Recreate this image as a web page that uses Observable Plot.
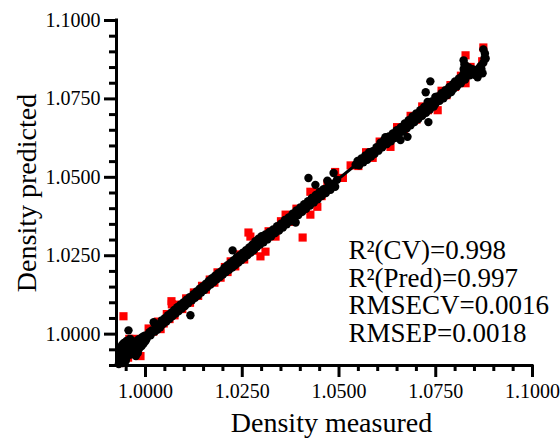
<!DOCTYPE html>
<html><head><meta charset="utf-8">
<script src="https://cdn.jsdelivr.net/npm/d3@7"></script>
<script src="https://cdn.jsdelivr.net/npm/@observablehq/plot@0.6"></script>
<style>body{margin:0;background:#fff}#chart svg{display:block}</style>
</head><body><div id="chart"></div>
<script>
// Calibration set (black circles): [measured, predicted]
const calibration = [
[0.9931,0.9905],[0.9932,0.9918],[0.9933,0.9932],[0.9934,0.9946],[0.9935,0.9958],[0.9936,0.9912],
[0.9937,0.9925],[0.9938,0.9938],[0.9939,0.9952],[0.9940,0.9966],[0.9941,0.9908],[0.9942,0.9930],
[0.9943,0.9944],[0.9944,0.9972],[0.9945,0.9920],[0.9946,0.9955],[0.9947,0.9936],[0.9948,0.9962],
[0.9949,0.9915],[0.9950,0.9948],[0.9951,0.9978],[0.9952,0.9928],[0.9953,0.9958],[0.9955,0.9940],
[0.9956,1.0012],[0.9957,0.9968],[0.9958,0.9950],[0.9960,0.9985],[0.9961,0.9935],[0.9962,0.9960],
[0.9964,0.9945],[0.9965,0.9975],[0.9967,0.9955],[0.9969,0.9968],[0.9971,0.9948],[0.9973,0.9972],
[0.9975,0.9960],[0.9977,0.9978],[0.9979,0.9965],[0.9981,0.9982],[0.9983,0.9970],[0.9985,0.9985],
[0.9987,0.9975],[0.9989,0.9988],[0.9991,0.9978],[0.9993,0.9992],[0.9996,0.9983],[0.9998,0.9995],
[0.9966,0.9938],[0.9972,0.9942],[0.9978,0.9950],[0.9984,0.9955],[0.9990,0.9962],[0.9995,0.9970],
[1.0000,0.9978],[0.9980,0.9940],[0.9975,0.9930],
[1.0003,0.9985],[1.0006,0.9998],[1.0010,1.0006],[1.0013,0.9996],[1.0016,1.0012],[1.0021,1.0038],
[1.0024,1.0008],[1.0027,1.0024],[1.0031,1.0015],[1.0035,1.0032],[1.0038,1.0022],[1.0042,1.0044],
[1.0046,1.0033],[1.0050,1.0051],[1.0054,1.0040],[1.0058,1.0060],[1.0062,1.0049],[1.0066,1.0068],
[1.0070,1.0058],[1.0074,1.0077],[1.0078,1.0066],[1.0082,1.0086],[1.0086,1.0074],[1.0090,1.0094],
[1.0094,1.0082],[1.0098,1.0101],[1.0102,1.0090],[1.0106,1.0110],[1.0110,1.0098],[1.0114,1.0118],
[1.0116,1.0060],[1.0120,1.0108],[1.0124,1.0127],[1.0128,1.0116],[1.0132,1.0136],[1.0136,1.0124],
[1.0140,1.0145],[1.0144,1.0133],[1.0148,1.0152],[1.0152,1.0141],[1.0156,1.0161],[1.0160,1.0150],
[1.0164,1.0170],[1.0168,1.0158],[1.0172,1.0178],[1.0176,1.0166],[1.0180,1.0186],[1.0184,1.0175],
[1.0188,1.0194],[1.0192,1.0182],[1.0196,1.0201],[1.0200,1.0190],
[1.0204,1.0212],[1.0208,1.0198],[1.0212,1.0220],[1.0216,1.0205],[1.0220,1.0228],[1.0225,1.0267],
[1.0224,1.0212],[1.0228,1.0236],[1.0232,1.0220],[1.0236,1.0245],[1.0240,1.0228],[1.0244,1.0252],
[1.0248,1.0236],[1.0252,1.0260],[1.0256,1.0244],[1.0260,1.0268],[1.0264,1.0252],[1.0268,1.0276],
[1.0272,1.0260],[1.0276,1.0285],[1.0280,1.0268],[1.0284,1.0296],[1.0288,1.0278],[1.0292,1.0304],
[1.0296,1.0286],[1.0300,1.0312],[1.0305,1.0293],[1.0310,1.0318],[1.0315,1.0302],[1.0320,1.0326],
[1.0325,1.0312],[1.0330,1.0334],[1.0335,1.0322],[1.0340,1.0344],[1.0345,1.0330],[1.0350,1.0352],
[1.0355,1.0340],[1.0360,1.0364],[1.0365,1.0350],[1.0370,1.0372],[1.0375,1.0360],[1.0380,1.0384],
[1.0385,1.0370],[1.0388,1.0356],[1.0390,1.0394],[1.0395,1.0380],[1.0400,1.0404],[1.0405,1.0390],
[1.0410,1.0414],[1.0415,1.0400],[1.0420,1.0424],[1.0421,1.0498],[1.0425,1.0410],[1.0430,1.0434],
[1.0435,1.0420],[1.0439,1.0476],[1.0440,1.0444],[1.0445,1.0430],[1.0450,1.0454],[1.0455,1.0440],
[1.0460,1.0462],[1.0466,1.0450],[1.0470,1.0489],[1.0472,1.0470],[1.0478,1.0460],[1.0484,1.0480],
[1.0486,1.0514],[1.0490,1.0470],[1.0495,1.0492],
[1.0543,1.0540],[1.0548,1.0552],[1.0552,1.0538],[1.0558,1.0560],[1.0563,1.0548],[1.0568,1.0570],
[1.0573,1.0556],[1.0578,1.0580],[1.0583,1.0566],[1.0587,1.0583],[1.0592,1.0575],[1.0597,1.0596],
[1.0602,1.0585],[1.0607,1.0610],[1.0612,1.0596],[1.0617,1.0620],[1.0620,1.0628],[1.0624,1.0606],
[1.0629,1.0630],[1.0634,1.0615],[1.0639,1.0640],[1.0644,1.0625],[1.0649,1.0650],[1.0654,1.0636],
[1.0659,1.0619],[1.0660,1.0660],[1.0665,1.0646],[1.0670,1.0672],[1.0675,1.0656],[1.0677,1.0629],
[1.0680,1.0682],[1.0685,1.0666],[1.0690,1.0694],[1.0695,1.0676],[1.0700,1.0704],[1.0705,1.0686],
[1.0710,1.0714],[1.0715,1.0696],[1.0720,1.0724],[1.0724,1.0771],[1.0729,1.0740],[1.0731,1.0676],
[1.0736,1.0806],[1.0725,1.0706],[1.0730,1.0732],[1.0735,1.0716],[1.0740,1.0742],[1.0745,1.0726],
[1.0749,1.0756],[1.0750,1.0736],[1.0755,1.0758],[1.0760,1.0744],[1.0765,1.0768],[1.0770,1.0752],
[1.0775,1.0778],[1.0780,1.0762],[1.0785,1.0788],[1.0790,1.0772],[1.0795,1.0798],[1.0796,1.0782],
[1.0800,1.0806],[1.0805,1.0790],[1.0810,1.0815],[1.0815,1.0800],[1.0818,1.0822],
[1.0822,1.0830],[1.0822,1.0845],[1.0824,1.0860],[1.0827,1.0857],[1.0822,1.0873],[1.0826,1.0812],
[1.0830,1.0840],[1.0835,1.0850],[1.0838,1.0825],[1.0840,1.0835],[1.0845,1.0845],[1.0848,1.0830],
[1.0852,1.0826],[1.0858,1.0819],[1.0862,1.0840],[1.0866,1.0855],[1.0871,1.0832],[1.0873,1.0865],
[1.0876,1.0880],[1.0879,1.0879],[1.0873,1.0908],[1.0877,1.0895],[1.0868,1.0845]
];
// Prediction set (red squares): [measured, predicted]
const prediction = [
[0.9935,0.9915],[0.9935,0.9908],[0.9940,0.9950],[0.9943,1.0057],[0.9945,0.9930],[0.9950,0.9965],
[0.9955,0.9925],[0.9958,0.9985],[0.9965,0.9945],[0.9972,0.9985],[0.9987,0.9930],[0.9990,0.9978],
[0.9998,0.9985],[1.0008,1.0018],[1.0020,1.0008],[1.0032,1.0040],[1.0039,1.0016],[1.0047,1.0034],
[1.0055,1.0064],[1.0062,1.0048],[1.0067,1.0105],[1.0068,1.0095],[1.0075,1.0060],[1.0085,1.0094],
[1.0095,1.0080],[1.0105,1.0114],[1.0115,1.0100],[1.0125,1.0133],[1.0136,1.0122],[1.0146,1.0154],
[1.0156,1.0142],[1.0166,1.0174],[1.0178,1.0164],[1.0186,1.0197],[1.0194,1.0180],[1.0205,1.0214],
[1.0212,1.0198],[1.0220,1.0232],[1.0232,1.0216],[1.0243,1.0254],[1.0255,1.0238],[1.0266,1.0324],
[1.0271,1.0311],[1.0280,1.0266],[1.0297,1.0248],[1.0310,1.0263],[1.0318,1.0328],[1.0336,1.0311],
[1.0350,1.0360],[1.0362,1.0381],[1.0375,1.0358],[1.0390,1.0400],[1.0406,1.0308],[1.0426,1.0454],
[1.0426,1.0381],[1.0444,1.0406],[1.0440,1.0452],[1.0455,1.0440],[1.0470,1.0480],[1.0490,1.0517],
[1.0510,1.0498],[1.0530,1.0538],[1.0550,1.0536],[1.0570,1.0580],[1.0587,1.0562],[1.0605,1.0614],
[1.0633,1.0597],[1.0650,1.0660],[1.0668,1.0650],[1.0685,1.0696],[1.0700,1.0684],[1.0715,1.0726],
[1.0730,1.0714],[1.0755,1.0714],[1.0765,1.0776],[1.0778,1.0762],[1.0788,1.0794],[1.0800,1.0788],
[1.0815,1.0824],[1.0827,1.0889],[1.0827,1.0800],[1.0840,1.0852],[1.0855,1.0836],[1.0873,1.0914],
[1.0870,1.0870]
];
const majorTicks = [1.0000, 1.0250, 1.0500, 1.0750, 1.1000];
const minorTicksX = [0.995,1.005,1.010,1.015,1.020,1.030,1.035,1.040,1.045,1.055,1.060,1.065,1.070,1.080,1.085,1.090,1.095];
const minorTicksY = [0.990,0.995,1.005,1.010,1.015,1.020,1.030,1.035,1.040,1.045,1.055,1.060,1.065,1.070,1.080,1.085,1.090,1.095];
const xDomain = [0.9925, 1.1];
const yDomain = [0.99, 1.1];
const stats = ["R²(CV)=0.998", "R²(Pred)=0.997", "RMSECV=0.0016", "RMSEP=0.0018"];
const xTitle = "Density measured";
const yTitle = "Density predicted";

const cal = calibration.map(([m, p]) => ({m, p}));
const pred = prediction.map(([m, p]) => ({m, p}));
const all = cal.concat(pred);
const fmt = d3.format(".4f");
const serif = "'Liberation Serif', 'Times New Roman', serif";

const chart = Plot.plot({
  width: 560, height: 443,
  marginLeft: 116, marginRight: 28, marginTop: 20, marginBottom: 78,
  style: {fontFamily: serif, color: "#000", background: "#fff"},
  x: {domain: xDomain, axis: null},
  y: {domain: yDomain, axis: null},
  marks: [
    Plot.ruleX([xDomain[0]], {strokeWidth: 3, insetBottom: -1.5, insetTop: -1.5}),
    Plot.ruleY([yDomain[0]], {strokeWidth: 3, insetLeft: -1.5, insetRight: -1.5}),
    Plot.axisX(minorTicksX, {tickSize: 6, strokeWidth: 3, tickFormat: () => "", label: null}),
    Plot.axisX(majorTicks, {tickSize: 12, tickPadding: 6, strokeWidth: 3, tickFormat: fmt, label: null, fontSize: 20, fontFamily: serif, fontVariant: "normal"}),
    Plot.axisY(minorTicksY, {tickSize: 7, strokeWidth: 3, tickFormat: () => "", label: null}),
    Plot.axisY(majorTicks, {tickSize: 12, tickPadding: 4, strokeWidth: 3, tickFormat: fmt, label: null, fontSize: 20, fontFamily: serif, fontVariant: "normal"}),
    Plot.dot(pred, {x: "m", y: "p", symbol: "square", r: 4.6, fill: "#ff0000"}),
    Plot.dot(cal, {x: "m", y: "p", r: 4.2, fill: "#000"}),
    Plot.linearRegressionY(all, {x: "m", y: "p", stroke: "#000", strokeWidth: 3, ci: 0}),
    Plot.text([stats.join("\n")], {text: d => d, frameAnchor: "top-left", textAnchor: "start", lineAnchor: "top", dx: 232, dy: 219, fontSize: 27, lineHeight: 1.02, fontFamily: serif}),
    Plot.text([xTitle], {text: d => d, frameAnchor: "bottom", textAnchor: "middle", lineAnchor: "bottom", dx: 7, dy: 66, fontSize: 28, fontFamily: serif}),
    Plot.text([yTitle], {text: d => d, frameAnchor: "left", textAnchor: "middle", rotate: -90, lineAnchor: "bottom", dx: -81, fontSize: 28, fontFamily: serif})
  ]
});
document.getElementById("chart").append(chart);
</script></body></html>
